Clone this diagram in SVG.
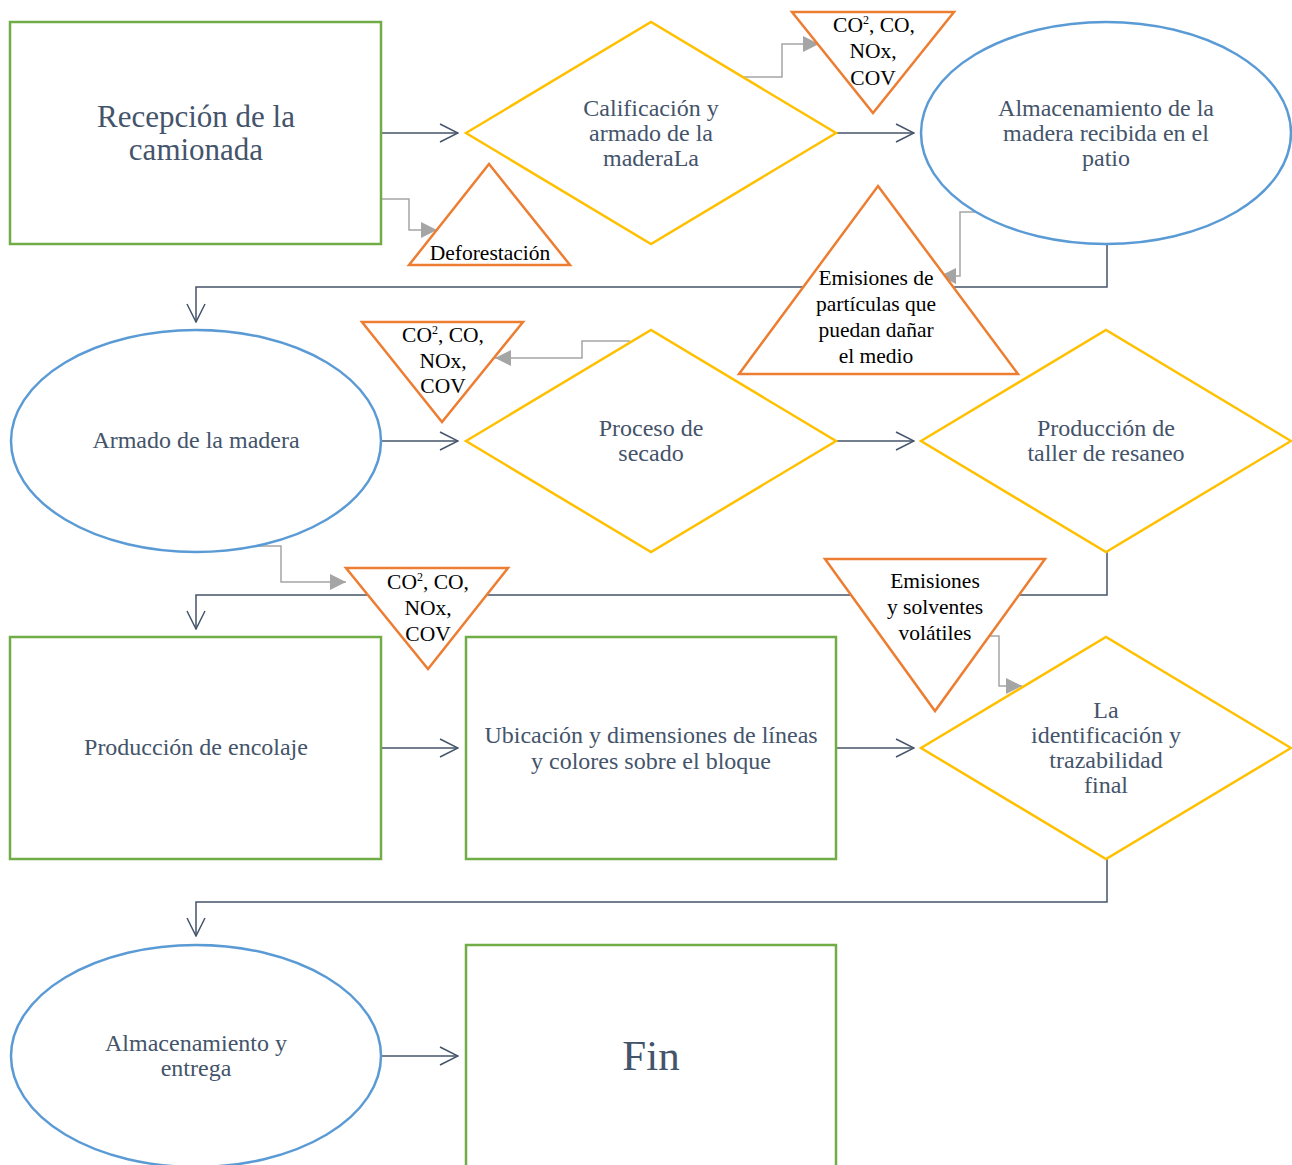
<svg xmlns="http://www.w3.org/2000/svg" width="1292" height="1165" viewBox="0 0 1292 1165">
  <style>
    .box { fill: #ffffff; stroke: #70AD47; stroke-width: 2.5; }
    .dec { fill: #ffffff; stroke: #FFC000; stroke-width: 2.5; }
    .oval { fill: #ffffff; stroke: #5B9BD5; stroke-width: 2.5; }
    .tri { fill: #ffffff; stroke: #ED7D31; stroke-width: 2.5; }
    .flow { fill: none; stroke: #44546A; stroke-width: 1.5; marker-end: url(#openArrow); }
    .side { fill: none; stroke: #A5A5A5; stroke-width: 1.5; marker-end: url(#solidArrow); }
    .lbl { font-family: "Liberation Serif", "Times New Roman", serif; font-size: 24px; fill: #44546A; text-anchor: middle; }
    .note { font-family: "Liberation Serif", "Times New Roman", serif; font-size: 21.5px; fill: #000000; text-anchor: middle; }
  </style>
  <defs>
    <marker id="openArrow" markerUnits="userSpaceOnUse" viewBox="0 0 20 20" refX="19" refY="10" markerWidth="20" markerHeight="20" orient="auto">
      <path d="M1,1 L19,10 L1,19" fill="none" stroke="#44546A" stroke-width="1.5"/>
    </marker>
    <marker id="solidArrow" markerUnits="userSpaceOnUse" viewBox="0 0 16 16" refX="16" refY="8" markerWidth="16" markerHeight="16" orient="auto">
      <path d="M0,0 L16,8 L0,16 Z" fill="#A5A5A5"/>
    </marker>
  </defs>

  <!-- connectors -->
  <g id="connectors">
    <path class="flow" d="M381,133 H458"/>
    <path class="flow" d="M836,133 H914"/>
    <path class="flow" d="M1107,244 V287 H196 V322"/>
    <path class="flow" d="M381,441 H458"/>
    <path class="flow" d="M836,441 H914"/>
    <path class="flow" d="M1107,552 V595 H196 V629"/>
    <path class="flow" d="M381,748 H458"/>
    <path class="flow" d="M836,748 H914"/>
    <path class="flow" d="M1107,859 V902 H196 V936"/>
    <path class="flow" d="M381,1056 H458"/>

    <path class="side" d="M381,199 H409 V230 H437"/>
    <path class="side" d="M741,77 H782 V44 H819"/>
    <path class="side" d="M980,212 H960 V276 H940"/>
    <path class="side" d="M630,341 H582 V358 H495"/>
    <path class="side" d="M245,546 H281 V582 H346"/>
    <path class="side" d="M985,636 H999 V686 H1022"/>
  </g>

  <!-- row 1 -->
  <g id="recepcion">
    <rect class="box" x="10" y="22" width="371" height="222"/>
    <text class="lbl" style="font-size:31px"><tspan x="196" y="127">Recepción de la</tspan><tspan x="196" y="160">camionada</tspan></text>
  </g>
  <g id="calificacion">
    <polygon class="dec" points="466,133 651,22 836,133 651,244"/>
    <text class="lbl"><tspan x="651" y="116">Calificación y</tspan><tspan x="651" y="141">armado de la</tspan><tspan x="651" y="166">maderaLa</tspan></text>
  </g>
  <g id="almacenamiento-patio">
    <ellipse class="oval" cx="1106" cy="133" rx="185" ry="111"/>
    <text class="lbl"><tspan x="1106" y="116">Almacenamiento de la</tspan><tspan x="1106" y="141">madera recibida en el</tspan><tspan x="1106" y="166">patio</tspan></text>
  </g>
  <g id="deforestacion">
    <polygon class="tri" points="489,164 570,265 409,265"/>
    <text class="note" x="490" y="260">Deforestación</text>
  </g>
  <g id="emisiones-calificacion">
    <polygon class="tri" points="792,12 954,12 873,113"/>
    <text class="note"><tspan x="874" y="32">CO<tspan font-size="12" dy="-8">2</tspan><tspan dy="8">, CO,</tspan></tspan><tspan x="873" y="58">NOx,</tspan><tspan x="873" y="85">COV</tspan></text>
  </g>
  <g id="emisiones-particulas">
    <polygon class="tri" points="878,186 1018,374 739,374"/>
    <text class="note"><tspan x="876" y="285">Emisiones de</tspan><tspan x="876" y="311">partículas que</tspan><tspan x="876" y="337">puedan dañar</tspan><tspan x="876" y="363">el medio</tspan></text>
  </g>

  <!-- row 2 -->
  <g id="armado">
    <ellipse class="oval" cx="196" cy="441" rx="185" ry="111"/>
    <text class="lbl" x="196" y="448">Armado de la madera</text>
  </g>
  <g id="secado">
    <polygon class="dec" points="466,441 651,330 836,441 651,552"/>
    <text class="lbl"><tspan x="651" y="436">Proceso de</tspan><tspan x="651" y="461">secado</tspan></text>
  </g>
  <g id="resaneo">
    <polygon class="dec" points="921,441 1106,330 1291,441 1106,552"/>
    <text class="lbl"><tspan x="1106" y="436">Producción de</tspan><tspan x="1106" y="461">taller de resaneo</tspan></text>
  </g>
  <g id="emisiones-secado">
    <polygon class="tri" points="362,322 523,322 442,422"/>
    <text class="note"><tspan x="443" y="342">CO<tspan font-size="12" dy="-8">2</tspan><tspan dy="8">, CO,</tspan></tspan><tspan x="443" y="368">NOx,</tspan><tspan x="443" y="393">COV</tspan></text>
  </g>
  <g id="emisiones-armado">
    <polygon class="tri" points="346,568 508,568 428,669"/>
    <text class="note"><tspan x="428" y="589">CO<tspan font-size="12" dy="-8">2</tspan><tspan dy="8">, CO,</tspan></tspan><tspan x="428" y="615">NOx,</tspan><tspan x="428" y="641">COV</tspan></text>
  </g>
  <g id="emisiones-solventes">
    <polygon class="tri" points="825,559 1045,559 935,711"/>
    <text class="note"><tspan x="935" y="588">Emisiones</tspan><tspan x="935" y="614">y solventes</tspan><tspan x="935" y="640">volátiles</tspan></text>
  </g>

  <!-- row 3 -->
  <g id="encolaje">
    <rect class="box" x="10" y="637" width="371" height="222"/>
    <text class="lbl" x="196" y="755">Producción de encolaje</text>
  </g>
  <g id="ubicacion">
    <rect class="box" x="466" y="637" width="370" height="222"/>
    <text class="lbl"><tspan x="651" y="743">Ubicación y dimensiones de líneas</tspan><tspan x="651" y="769">y colores sobre el bloque</tspan></text>
  </g>
  <g id="trazabilidad">
    <polygon class="dec" points="921,748 1106,637 1291,748 1106,859"/>
    <text class="lbl"><tspan x="1106" y="718">La</tspan><tspan x="1106" y="743">identificación y</tspan><tspan x="1106" y="768">trazabilidad</tspan><tspan x="1106" y="793">final</tspan></text>
  </g>

  <!-- row 4 -->
  <g id="entrega">
    <ellipse class="oval" cx="196" cy="1056" rx="185" ry="111"/>
    <text class="lbl"><tspan x="196" y="1051">Almacenamiento y</tspan><tspan x="196" y="1076">entrega</tspan></text>
  </g>
  <g id="fin">
    <rect class="box" x="466" y="945" width="370" height="240"/>
    <text class="lbl" style="font-size:43px" x="651" y="1070">Fin</text>
  </g>
</svg>
